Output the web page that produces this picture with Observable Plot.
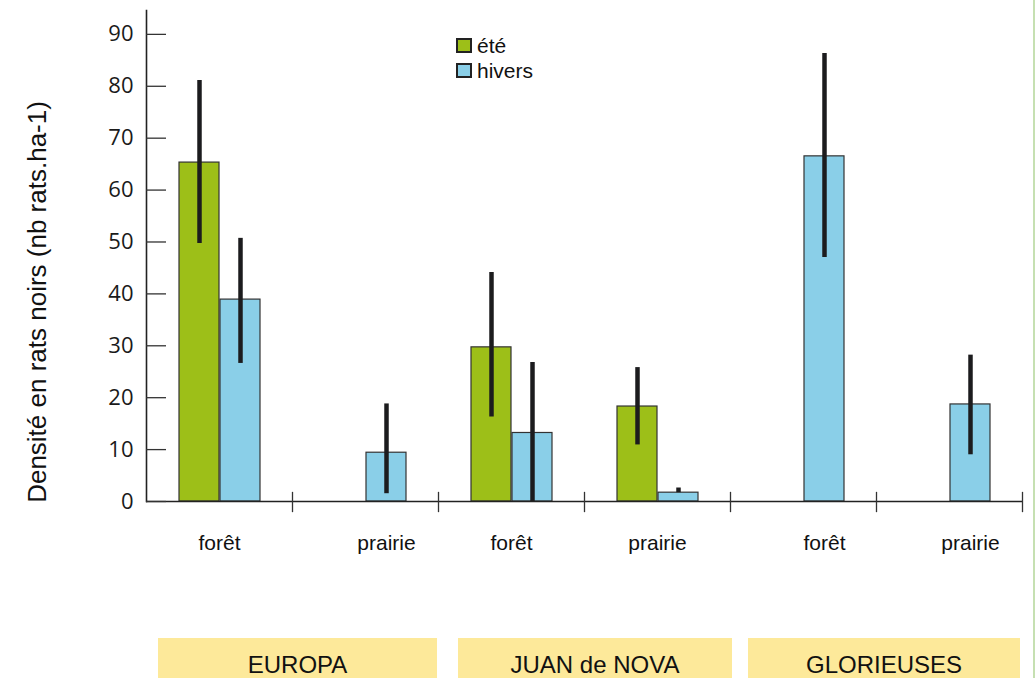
<!DOCTYPE html>
<html>
<head>
<meta charset="utf-8">
<script src="https://cdn.jsdelivr.net/npm/d3@7"></script>
<script src="https://cdn.jsdelivr.net/npm/@observablehq/plot@0.6"></script>
<style>
  body { margin: 0; background: #fff; }
  #wrap { position: relative; width: 1036px; height: 678px; overflow: hidden; background: #fff;
          font-family: "Liberation Sans", Arial, sans-serif; color: #111; }
  #chart { position: absolute; left: 0; top: 0; }
  .leg { position: absolute; left: 456px; height: 25px; font-size: 21px; display: flex; align-items: center; }
  .sw { width: 12px; height: 11px; border: 2px solid #222; margin-right: 5px; }
  .island { position: absolute; top: 638px; height: 25px; padding-top: 15px; line-height: 24px;
            background: #fde99a; font-size: 24px; text-align: center; color: #111; }
  .edge { position: absolute; left: 1033px; top: 0; width: 2px; height: 678px; background: #c6e0b2; }
</style>
</head>
<body>
<div id="wrap">
  <div id="chart"></div>
</div>
<script>
// ---- data ----
const groups   = ["EUROPA", "EUROPA", "JUAN de NOVA", "JUAN de NOVA", "GLORIEUSES", "GLORIEUSES"];
const habitats = ["forêt", "prairie", "forêt", "prairie", "forêt", "prairie"];
const seasons  = ["été", "hiver"];
const legendLabels = ["été", "hivers"];
const eteMean  = [65.3, null, 29.7, 18.3, null, null];
const eteLow   = [49.7, null, 16.3, 10.9, null, null];
const eteHigh  = [81.1, null, 44.1, 25.8, null, null];
const hiverMean = [38.9, 9.4, 13.2, 1.7, 66.5, 18.7];
const hiverLow  = [26.6, 1.5, 0.0, 1.7, 47.0, 9.0];
const hiverHigh = [50.7, 18.8, 26.8, 2.6, 86.3, 28.2];
const yTicks = [0, 10, 20, 30, 40, 50, 60, 70, 80, 90];
const islands = ["EUROPA", "JUAN de NOVA", "GLORIEUSES"];
const yLabel = "Densité en rats noirs (nb rats.ha-1)";
const seasonColors = ["#9dbf18", "#8acfe8"];

// ---- table built from the arrays ----
const keys = groups.map((g, i) => g + " · " + habitats[i]);
const rows = [];
keys.forEach((k, i) => {
  if (eteMean[i] != null) rows.push({key: k, season: "été", mean: eteMean[i], lo: eteLow[i], hi: eteHigh[i]});
  if (hiverMean[i] != null) rows.push({key: k, season: "hiver", mean: hiverMean[i], lo: hiverLow[i], hi: hiverHigh[i]});
});
const labels = keys.map((k, i) => ({
  key: k, text: habitats[i],
  full: eteMean[i] != null && hiverMean[i] != null,
  only: eteMean[i] != null ? "été" : "hiver"
}));

const chart = Plot.plot({
  width: 1036, height: 600,
  marginLeft: 146, marginRight: 14, marginTop: 10, marginBottom: 99,
  fx: {domain: keys, padding: 0, axis: null},
  x: {domain: seasons, paddingInner: 0.03, paddingOuter: 0.78, axis: null},
  y: {domain: [0, 94.6], axis: null},
  color: {domain: seasons, range: seasonColors},
  style: {fontFamily: "Liberation Sans, Arial, sans-serif", color: "#111", background: "transparent", overflow: "visible"},
  marks: [
    Plot.barY(rows, {fx: "key", x: "season", y: "mean", fill: "season", stroke: "#333", strokeWidth: 1.2}),
    Plot.ruleX(rows, {fx: "key", x: "season", y1: "lo", y2: "hi", stroke: "#1c1c1e", strokeWidth: 4.5}),
    Plot.ruleY([0], {stroke: "#222", strokeWidth: 1.6}),
    Plot.frame({anchor: "right", insetTop: 482, insetBottom: -10, stroke: "#333", strokeWidth: 1.3}),
    Plot.frame({anchor: "left", facetAnchor: "left", stroke: "#222", strokeWidth: 1.6}),
    Plot.axisY(yTicks, {anchor: "left", tickSize: -20, tickPadding: 33, fontSize: 22,
      fontFamily: "Open Sans, sans-serif", label: null, stroke: "#333", strokeWidth: 1.3, fill: "#1a1a1a"}),
    Plot.text([yLabel], {frameAnchor: "left", textAnchor: "middle", lineAnchor: "middle", rotate: -90,
      dx: -109, dy: 46, fontSize: 26, fill: "#111", facetAnchor: "left"}),
    Plot.text(labels.filter(d => d.full), {fx: "key", text: "text", frameAnchor: "bottom", dy: 48, fontSize: 21, fill: "#111"}),
    Plot.text(labels.filter(d => !d.full), {fx: "key", x: "only", text: "text", frameAnchor: "bottom", dy: 48, fontSize: 21, fill: "#111"})
  ]
});
const wrap = document.getElementById("wrap");
document.getElementById("chart").appendChild(chart);

// legend (inside the plot area, top centre)
const legTops = [33, 58];
seasons.forEach((s, i) => {
  const row = document.createElement("div");
  row.className = "leg";
  row.style.top = legTops[i] + "px";
  const sw = document.createElement("div");
  sw.className = "sw";
  sw.style.background = seasonColors[i];
  row.appendChild(sw);
  row.appendChild(document.createTextNode(legendLabels[i]));
  wrap.appendChild(row);
});

// island boxes under the groups
const islandBoxes = [[158, 437], [458, 732], [748, 1020]];
islands.forEach((name, i) => {
  const b = document.createElement("div");
  b.className = "island";
  b.style.left = islandBoxes[i][0] + "px";
  b.style.width = (islandBoxes[i][1] - islandBoxes[i][0]) + "px";
  b.textContent = name;
  wrap.appendChild(b);
});
const edge = document.createElement("div");
edge.className = "edge";
wrap.appendChild(edge);
</script>
</body>
</html>
